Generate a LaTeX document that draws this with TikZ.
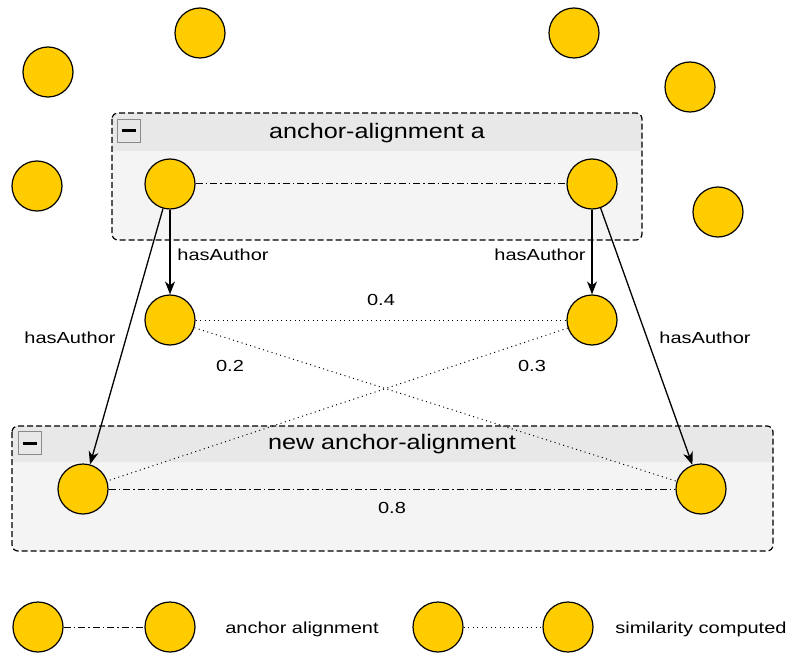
\documentclass[tikz,border=0pt]{standalone}
\usepackage{fontspec}
\usepackage{graphicx}
\setmainfont{Liberation Sans}
\usetikzlibrary{arrows.meta}
\definecolor{ballfill}{HTML}{FFCC00}
\definecolor{hdrfill}{HTML}{E8E8E8}
\definecolor{bodyfill}{HTML}{F4F4F4}
\definecolor{iconedge}{HTML}{8A8A8A}
\newcommand\lbltxt[1]{\scalebox{1.25}[1]{\fontsize{16}{18}\selectfont #1}}
\newcommand\ttltxt[1]{\scalebox{1.2}[1]{\fontsize{21}{24}\selectfont #1}}
\tikzset{
  ball/.style={circle, draw=black, line width=1.2pt, fill=ballfill, minimum size=50pt, inner sep=0pt},
  grpborder/.style={draw=black, line width=1.2pt, dash pattern=on 6pt off 3pt, rounded corners=6pt},
  dashdotline/.style={line width=1pt, dash pattern=on 7pt off 3pt on 1.5pt off 3pt},
  dotline/.style={line width=1pt, dash pattern=on 1pt off 3.5pt},
  arr/.style={line width=1.3pt, -{Stealth[length=13pt, width=10pt, inset=4pt]}},
  lbl/.style={inner sep=1pt},
  minusicon/.style={draw=iconedge, fill=hdrfill, line width=1pt, minimum size=23pt, inner sep=0pt},
}
\begin{document}
\begin{tikzpicture}[x=1pt, y=-1pt]
\useasboundingbox (0,0) rectangle (789,655);
\fill[white] (0,0) rectangle (789,655);

% free circles
\node[ball] (f1) at (200,33) {};
\node[ball] (f2) at (48,72) {};
\node[ball] (f3) at (574,33) {};
\node[ball] (f4) at (690,87) {};
\node[ball] (f5) at (37,186) {};
\node[ball] (f6) at (718,212) {};

% group A
\fill[bodyfill, rounded corners=6pt] (112,113) rectangle (642,240);
\fill[hdrfill] (112,151) [rounded corners=6pt] -- (112,113) -- (642,113) [sharp corners] -- (642,151) -- cycle;
\draw[grpborder] (112,113) rectangle (642,240);
\node[minusicon] (ia) at (129,131) {};
\draw[line width=3pt] (122,131) -- (136,131);
\node (ta) at (377,133) {\ttltxt{anchor-alignment a}};

% group B
\fill[bodyfill, rounded corners=6pt] (12,426) rectangle (773,551);
\fill[hdrfill] (12,462) [rounded corners=6pt] -- (12,426) -- (773,426) [sharp corners] -- (773,462) -- cycle;
\draw[grpborder] (12,426) rectangle (773,551);
\node[minusicon] (ib) at (30,443) {};
\draw[line width=3pt] (23,443) -- (37,443);
\node (tb) at (392,444) {\ttltxt{new anchor-alignment}};

% nodes
\node[ball] (a1) at (170,184) {};
\node[ball] (a2) at (592,184) {};
\node[ball] (m1) at (170,320) {};
\node[ball] (m2) at (592,320) {};
\node[ball] (b1) at (83,489) {};
\node[ball] (b2) at (701,489) {};

% edges
\draw[dashdotline] (a1) -- (a2);
\draw[dashdotline] (b1) -- (b2);
\draw[dotline] (m1) -- (m2);
\draw[dotline] (m1) -- (b2);
\draw[dotline] (m2) -- (b1);
\draw[arr] (a1) -- (m1);
\draw[arr] (a2) -- (m2);
\draw[arr] (a1) -- (b1);
\draw[arr] (a2) -- (b2);

% labels
\node[lbl] (h1) at (223,255) {\lbltxt{hasAuthor}};
\node[lbl] (h2) at (540,255) {\lbltxt{hasAuthor}};
\node[lbl] (h3) at (70,338) {\lbltxt{hasAuthor}};
\node[lbl] (h4) at (705,338) {\lbltxt{hasAuthor}};
\node[lbl] (s04) at (381,300) {\lbltxt{0.4}};
\node[lbl] (s02) at (230,366) {\lbltxt{0.2}};
\node[lbl] (s03) at (532,366) {\lbltxt{0.3}};
\node[lbl] (s08) at (392,508) {\lbltxt{0.8}};

% legend
\node[ball] (l1) at (38,627) {};
\node[ball] (l2) at (170,627) {};
\node[ball] (l3) at (438,627) {};
\node[ball] (l4) at (568,627) {};
\draw[dashdotline] (l1) -- (l2);
\draw[dotline] (l3) -- (l4);
\node[lbl] (lt1) at (302,629) {\lbltxt{anchor alignment}};
\node[lbl] (lt2) at (701,629) {\lbltxt{similarity computed}};
\end{tikzpicture}
\end{document}
